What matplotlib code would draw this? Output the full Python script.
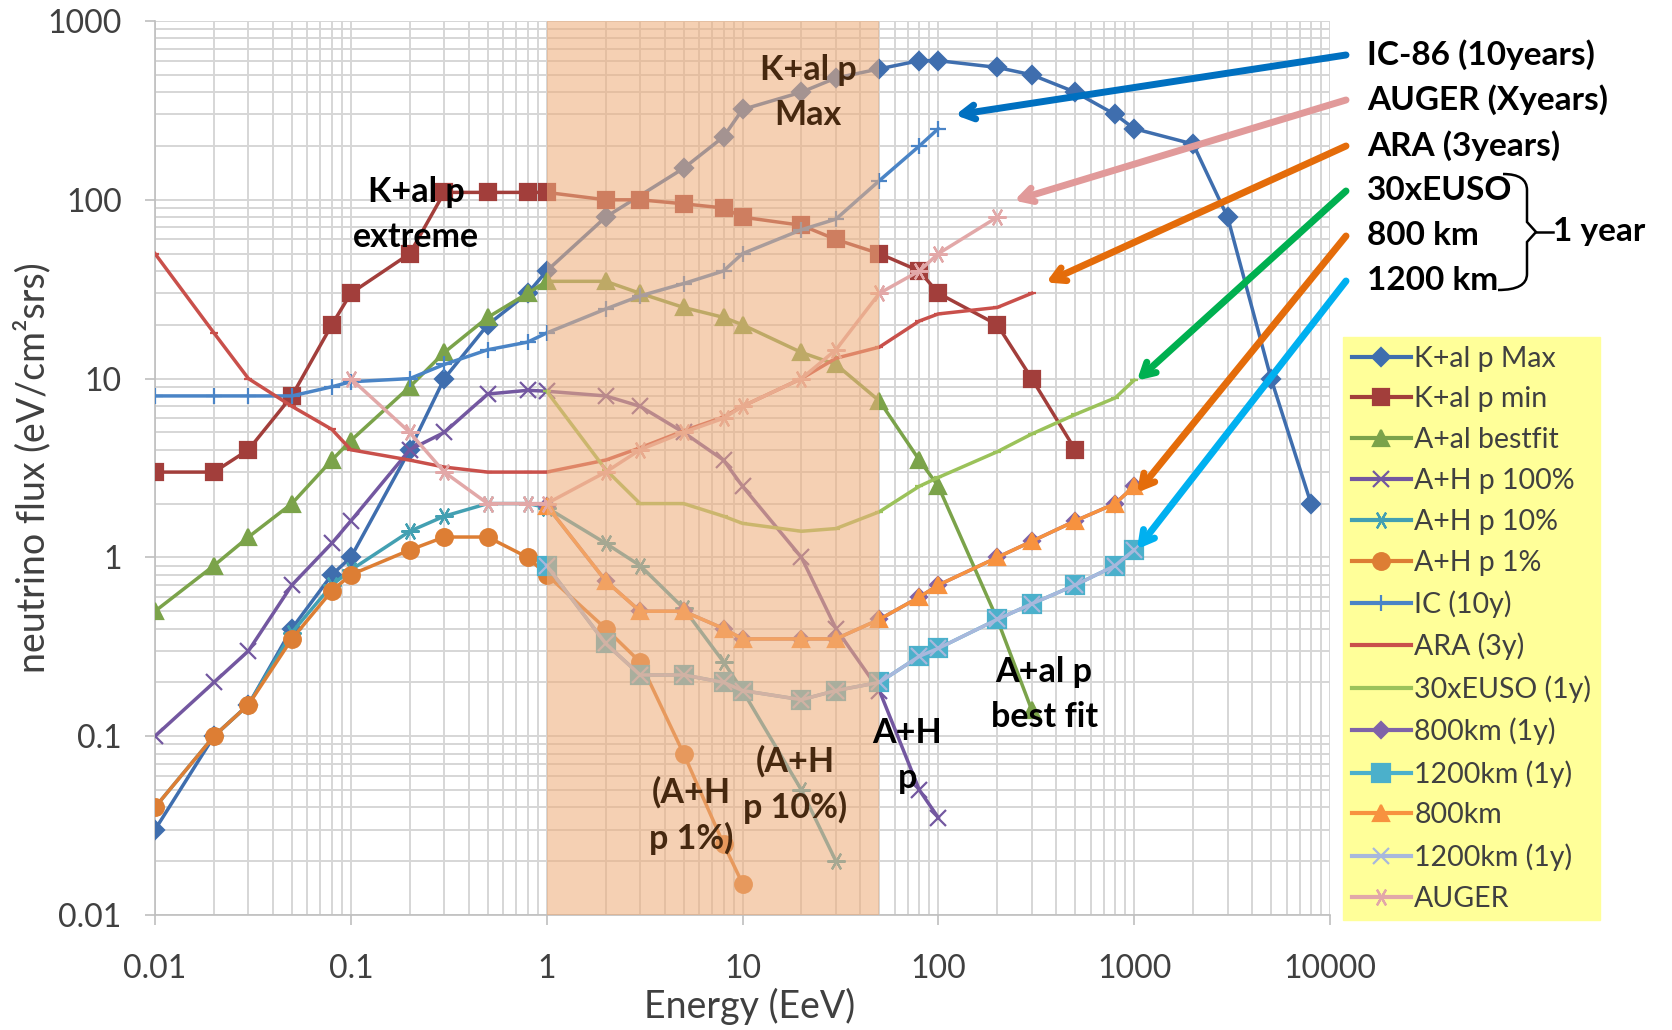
import matplotlib
matplotlib.use("Agg")
import matplotlib.pyplot as plt
from matplotlib.lines import Line2D
from matplotlib.path import Path
from matplotlib.patches import PathPatch
from matplotlib.ticker import LogLocator, NullFormatter

plt.rcParams["font.family"] = ["Lato", "DejaVu Sans"]

# ── DATA (energy in EeV, flux in eV/cm2 s sr) ────────────────────────────────
kmax_x = [0.01, 0.02, 0.03, 0.05, 0.08, 0.1, 0.2, 0.3, 0.5, 0.8, 1, 2, 5, 8, 10,
          20, 30, 50, 80, 100, 200, 300, 500, 800, 1000, 2000, 3000, 5000, 8000]
kmax_y = [0.03, 0.1, 0.15, 0.4, 0.8, 1.0, 4, 10, 20, 30, 40, 80, 150, 225, 320,
          400, 480, 540, 600, 600, 550, 500, 400, 300, 250, 205, 80, 10, 2]

kmin_x = [0.01, 0.02, 0.03, 0.05, 0.08, 0.1, 0.2, 0.3, 0.5, 0.8, 1, 2, 3, 5, 8,
          10, 20, 30, 50, 80, 100, 200, 300, 500]
kmin_y = [3, 3, 4, 8, 20, 30, 50, 110, 110, 110, 110, 100, 100, 95, 90,
          80, 72, 60, 50, 40, 30, 20, 10, 4]

abest_x = [0.01, 0.02, 0.03, 0.05, 0.08, 0.1, 0.2, 0.3, 0.5, 0.8, 1, 2, 3, 5, 8,
           10, 20, 30, 50, 80, 100, 200, 300]
abest_y = [0.5, 0.9, 1.3, 2, 3.5, 4.5, 9, 14, 22, 30, 35, 35, 30, 25, 22,
           20, 14, 12, 7.5, 3.5, 2.5, 0.45, 0.14]

ah100_x = [0.01, 0.02, 0.03, 0.05, 0.08, 0.1, 0.2, 0.3, 0.5, 0.8, 1, 2, 3, 5, 8,
           10, 20, 30, 50, 80, 100]
ah100_y = [0.1, 0.2, 0.3, 0.7, 1.2, 1.6, 4, 5, 8.2, 8.6, 8.5, 8, 7, 5, 3.5,
           2.5, 1.0, 0.4, 0.18, 0.05, 0.035]

ah10_x = [0.01, 0.02, 0.03, 0.05, 0.08, 0.1, 0.2, 0.3, 0.5, 0.8, 1, 2, 3, 5, 8,
          10, 20, 30]
ah10_y = [0.04, 0.1, 0.15, 0.38, 0.7, 0.85, 1.4, 1.7, 2.0, 2.0, 1.9, 1.2, 0.9,
          0.52, 0.26, 0.18, 0.05, 0.02]

ah1_x = [0.01, 0.02, 0.03, 0.05, 0.08, 0.1, 0.2, 0.3, 0.5, 0.8, 1, 2, 3, 5, 8, 10]
ah1_y = [0.04, 0.1, 0.15, 0.35, 0.65, 0.8, 1.1, 1.3, 1.3, 1.0, 0.8, 0.4, 0.26,
         0.08, 0.025, 0.015]

ic_x = [0.01, 0.02, 0.03, 0.05, 0.08, 0.1, 0.2, 0.3, 0.5, 0.8, 1, 2, 3, 5, 8,
        10, 20, 30, 50, 80, 100]
ic_y = [8, 8, 8, 8, 9, 9.6, 10, 12, 14.5, 16, 18, 24.5, 29, 34, 40,
        50, 68, 78, 128, 200, 250]

ara_x = [0.01, 0.02, 0.03, 0.05, 0.08, 0.1, 0.2, 0.3, 0.5, 0.8, 1, 2, 3, 5, 8,
         10, 20, 30, 50, 80, 100, 200, 300]
ara_y = [50, 18, 10, 7, 5.2, 4.0, 3.5, 3.2, 3.0, 3.0, 3.0, 3.5, 4.1, 5.1, 6.1,
         7.0, 10, 13, 15, 21, 23, 25, 30]

euso_x = [1, 2, 3, 5, 8, 10, 20, 30, 50, 80, 100, 200, 300, 500, 800, 1000]
euso_y = [8.5, 3.1, 2.0, 2.0, 1.7, 1.55, 1.4, 1.45, 1.8, 2.5, 2.8, 3.9, 4.9,
          6.3, 7.8, 9.8]

orbit_x = [1, 2, 3, 5, 8, 10, 20, 30, 50, 80, 100, 200, 300, 500, 800, 1000]
km800_y = [1.95, 0.74, 0.5, 0.5, 0.4, 0.35, 0.35, 0.35, 0.45, 0.6, 0.7, 1.0,
           1.23, 1.6, 2.0, 2.5]
km1200_y = [0.9, 0.33, 0.22, 0.22, 0.2, 0.18, 0.16, 0.18, 0.2, 0.28, 0.31,
            0.45, 0.55, 0.7, 0.9, 1.1]

auger_x = [0.1, 0.2, 0.3, 0.5, 0.8, 1, 2, 3, 5, 8, 10, 20, 30, 50, 80, 100, 200]
auger_y = [10, 5, 3, 2, 2, 2, 3, 4, 5, 6, 7, 10, 14.5, 30, 40, 50, 80]

x_ticks = [0.01, 0.1, 1, 10, 100, 1000, 10000]
x_tick_labels = ["0.01", "0.1", "1", "10", "100", "1000", "10000"]
y_ticks = [0.01, 0.1, 1, 10, 100, 1000]
y_tick_labels = ["0.01", "0.1", "1", "10", "100", "1000"]

band = (1, 50)   # highlighted energy window

# ── STYLE ────────────────────────────────────────────────────────────────────
TXT = "#404040"
GRID = "#D6D6D6"
BROWN = "#46280F"
ASTER = (6, 2, 90)

W, H = 1672, 1030
fig = plt.figure(figsize=(W / 100, H / 100), dpi=100, facecolor="white")
ax = fig.add_axes([155 / W, 1 - 915 / H, 1175 / W, 894 / H])


def fpx(px, py):
    """pixel position (origin top-left) -> figure fraction"""
    return (px / W, 1 - py / H)


series = [
    # x, y, label, color, marker, size, legend marker
    (kmax_x, kmax_y, "K+al p Max", "#3F6EAE", "D", 9, "D"),
    (kmin_x, kmin_y, "K+al p min", "#A23E3B", "s", 12, "s"),
    (abest_x, abest_y, "A+al bestfit", "#7BA34A", "^", 12, "^"),
    (ah100_x, ah100_y, "A+H p 100%", "#7357A0", "x", 12, "x"),
    (ah10_x, ah10_y, "A+H p 10%", "#43A0B2", ASTER, 13, ASTER),
    (ah1_x, ah1_y, "A+H p 1%", "#DD7E34", "o", 12, "o"),
    (ic_x, ic_y, "IC (10y)", "#4A84C6", "+", 11, "+"),
    (ara_x, ara_y, "ARA (3y)", "#C9504B", "_", 6, "None"),
    (euso_x, euso_y, "30xEUSO (1y)", "#9BC25A", "_", 6, "None"),
    (orbit_x, km800_y, "800km (1y)", "#7F63A8", "D", 8, "D"),
    (orbit_x, km1200_y, "1200km (1y)", "#4BB0CB", "s", 13, "s"),
    (orbit_x, km800_y, "800km", "#F7923F", "^", 12, "^"),
    (orbit_x, km1200_y, "1200km (1y)", "#A8B8DC", "x", 12, "x"),
    (auger_x, auger_y, "AUGER", "#E2A8A8", ASTER, 13, ASTER),
]

handles = []
for i, (xs, ys, lab, col, mk, ms, lmk) in enumerate(series):
    ax.plot(xs, ys, color=col, lw=2.5, marker=mk, ms=ms, mew=1.6,
            mec=col, mfc=col, zorder=3 + i * 0.01, solid_joinstyle="round")
    handles.append(Line2D([], [], color=col, lw=3, marker=lmk, ms=ms,
                          mew=1.6, mec=col, mfc=col, label=lab))

# highlighted energy window drawn over the curves
ax.axvspan(band[0], band[1], facecolor="#EFAE7C", alpha=0.58, lw=0, zorder=5)

# ── CURVE LABELS ─────────────────────────────────────────────────────────────
lab_kw = dict(fontsize=24.5, fontweight="bold", ha="center", va="center",
              linespacing=1.5, zorder=6)
ax.text(0.216, 83, "K+al p\nextreme", color="black", **lab_kw)
ax.text(21.6, 400, "K+al p\nMax", color=BROWN, **lab_kw)
ax.text(347, 0.172, "A+al p\nbest fit", color="black", **lab_kw)
ax.text(69.5, 0.0775, "A+H\np", color="black", **lab_kw)
ax.text(18.6, 0.0535, "(A+H\np 10%)", color=BROWN, **lab_kw)
ax.text(5.5, 0.0359, "(A+H\np 1%)", color=BROWN, **lab_kw)

# ── AXES ─────────────────────────────────────────────────────────────────────
ax.set_xscale("log")
ax.set_yscale("log")
ax.set_xlim(0.01, 10000)
ax.set_ylim(0.01, 1000)
ax.set_xticks(x_ticks, x_tick_labels)
ax.set_yticks(y_ticks, y_tick_labels)
ax.xaxis.set_minor_locator(LogLocator(base=10, subs=range(2, 10), numticks=20))
ax.yaxis.set_minor_locator(LogLocator(base=10, subs=range(2, 10), numticks=20))
ax.xaxis.set_minor_formatter(NullFormatter())
ax.yaxis.set_minor_formatter(NullFormatter())
ax.grid(which="both", color=GRID, lw=1.4, zorder=0)
ax.set_axisbelow(True)
ax.tick_params(which="major", direction="out", length=7, width=1.2,
               color="#BFBFBF", labelsize=23, labelcolor=TXT)
ax.tick_params(axis="x", which="major", pad=21)
ax.tick_params(axis="y", which="major", pad=17)
ax.tick_params(which="minor", length=0)
for s in ["top", "right"]:
    ax.spines[s].set_visible(False)
for s in ["left", "bottom"]:
    ax.spines[s].set_color("#BFBFBF")
    ax.spines[s].set_linewidth(1.2)

ax.set_xlabel("Energy (EeV)", fontsize=27, color=TXT)
ax.set_ylabel("neutrino flux (eV/cm²srs)", fontsize=27, color=TXT)
ax.xaxis.set_label_coords(0.506, -0.082)
ax.yaxis.set_label_coords(-0.088, 0.5)

# ── LEGEND ───────────────────────────────────────────────────────────────────
leg = fig.legend(handles=handles, loc="upper left",
                 bbox_to_anchor=fpx(1343, 337), bbox_transform=fig.transFigure,
                 fontsize=20.5, frameon=True, fancybox=False, framealpha=1,
                 facecolor="#FFFF99", edgecolor="#FFFF99", borderpad=0.3,
                 labelspacing=0.52, handlelength=2.1, handletextpad=0.1,
                 borderaxespad=0)
for t in leg.get_texts():
    t.set_color(TXT)

# ── EXPERIMENT CALL-OUTS ─────────────────────────────────────────────────────
callouts = [
    ("IC-86 (10years)", 55, "#0070C0", (122, 298)),
    ("AUGER (Xyears)", 100, "#E19A9A", (244, 99)),
    ("ARA (3years)", 146, "#E46C0A", (355, 34.5)),
    ("30xEUSO", 191, "#00B050", (1033, 9.75)),
    ("800 km", 236, "#E46C0A", (1033, 2.3)),
    ("1200 km", 281, "#00B0F0", (1033, 1.11)),
]
for text, py, col, tip in callouts:
    fig.text(*fpx(1367, py), text, fontsize=24, fontweight="bold",
             color="black", ha="left", va="center")
    ax.annotate("", xy=tip, xycoords="data",
                xytext=fpx(1346, py), textcoords="figure fraction",
                arrowprops=dict(arrowstyle="->,head_length=0.9,head_width=0.5",
                                color=col, lw=5, shrinkA=0, shrinkB=0),
                zorder=8, annotation_clip=False)

# brace grouping the three 1-year instruments
brace = [(1503, 174), (1527, 174), (1527, 190), (1527, 222), (1536, 232),
         (1527, 242), (1527, 274), (1527, 290), (1498, 290)]
codes = [Path.MOVETO, Path.CURVE3, Path.CURVE3, Path.LINETO, Path.LINETO,
         Path.LINETO, Path.LINETO, Path.CURVE3, Path.CURVE3]
verts = [fpx(*p) for p in brace]
fig.patches.append(PathPatch(Path(verts, codes), transform=fig.transFigure,
                             fill=False, lw=1.8, color="black"))
fig.lines.append(Line2D(*zip(fpx(1536, 232), fpx(1553, 232)),
                        transform=fig.transFigure, color="black", lw=1.8))
fig.text(*fpx(1553, 232), "1 year", fontsize=24, fontweight="bold",
         color="black", ha="left", va="center")

fig.savefig("out.png", dpi=100, facecolor="white")
